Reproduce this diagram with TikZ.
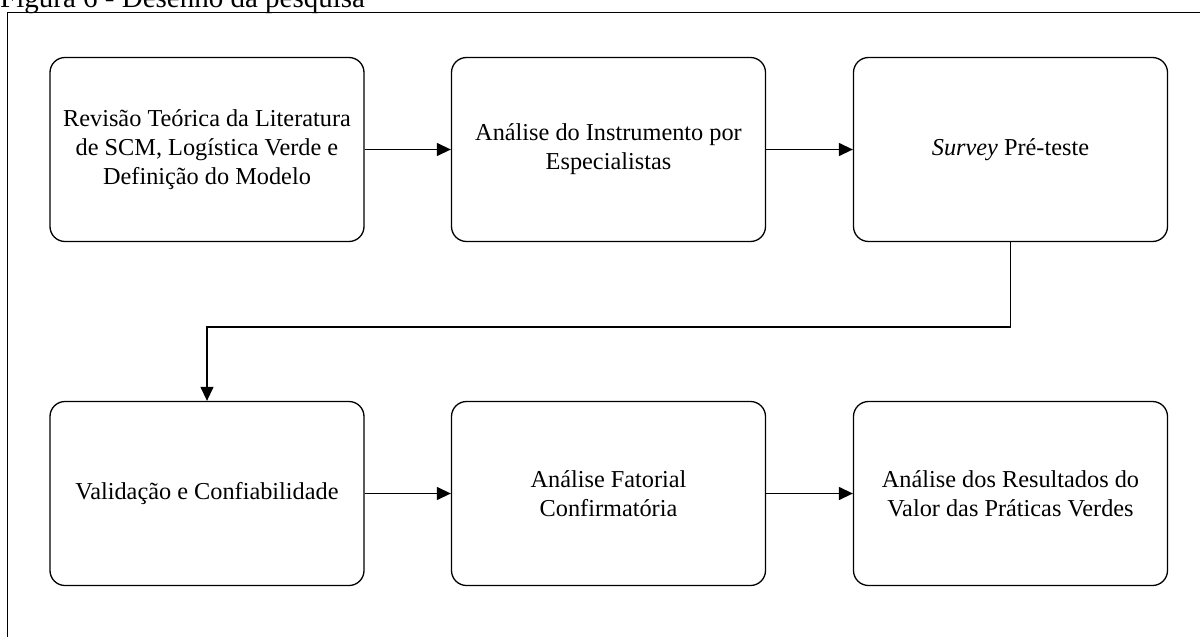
\documentclass[tikz,border=0pt]{standalone}
\usepackage{fontspec}
\setmainfont{Liberation Serif}
\usetikzlibrary{arrows.meta}
\begin{document}
\begin{tikzpicture}[x=1pt,y=-1pt,
  stepbox/.style={draw, line width=1.3pt, rounded corners=15pt, minimum width=314pt,
    minimum height=184pt, align=center, inner sep=0pt,
    font=\fontsize{24.3}{29}\selectfont},
  flow/.style={line width=1.3pt, -{Triangle[length=14pt,width=13pt]}}]
\useasboundingbox (0,0) rectangle (1200,637);
\begin{scope}
\clip (0,0) rectangle (1200,637);
% caption and outer frame
\node[anchor=base west, inner sep=0pt, font=\fontsize{29}{34}\selectfont] (cap) at (0,7) {Figura 6 - Desenho da pesquisa};
\draw[line width=1.3pt] (7.5,700) -- (7.5,12.5) -- (1260,12.5);
\end{scope}
% process steps
\node[stepbox] (s1) at (207,149.5) {Revisão Teórica da Literatura\\de SCM, Logística Verde e\\Definição do Modelo};
\node[stepbox] (s2) at (608.5,149.5) {Análise do Instrumento por\\Especialistas};
\node[stepbox] (s3) at (1010.5,149.5) {\textit{Survey} Pré-teste};
\node[stepbox] (s4) at (207,493.5) {Validação e Confiabilidade};
\node[stepbox] (s5) at (608.5,493.5) {Análise Fatorial\\Confirmatória};
\node[stepbox] (s6) at (1010.5,493.5) {Análise dos Resultados do\\Valor das Práticas Verdes};
\coordinate (turn) at (1010.5,327);
% connectors
\draw[flow] (s1) -- (s2);
\draw[flow] (s2) -- (s3);
\draw[flow] (s3.south) -- (turn) -| (s4.north);
\draw[flow] (s4) -- (s5);
\draw[flow] (s5) -- (s6);
\end{tikzpicture}
\end{document}
